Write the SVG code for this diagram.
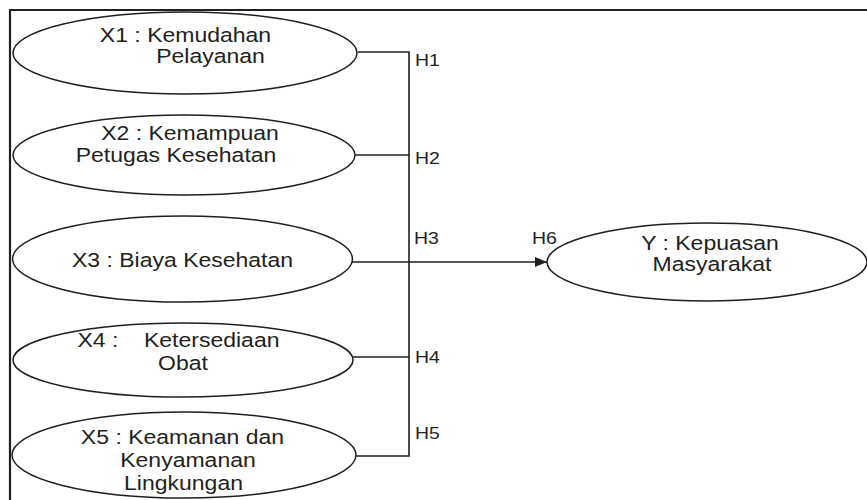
<svg xmlns="http://www.w3.org/2000/svg" width="867" height="500" viewBox="0 0 867 500">
  <style>
    .node ellipse { fill: #ffffff; stroke: #231f20; stroke-width: 1.5; }
    .node text, .lbl { font-family: "Liberation Sans", Arial, sans-serif; fill: #231f20; }
    .node text { font-size: 19.5px; text-anchor: middle; }
    .lbl { font-size: 16.5px; }
    .wire { fill: none; stroke: #231f20; stroke-width: 1.6; }
  </style>
  <defs>
    <marker id="arrow" viewBox="0 0 12 10" refX="12" refY="5" markerWidth="13" markerHeight="10" markerUnits="userSpaceOnUse" orient="auto">
      <path d="M0 0 L12 5 L0 10 Z" fill="#231f20"/>
    </marker>
  </defs>

  <rect width="867" height="500" fill="#ffffff"/>
  <!-- frame -->
  <path d="M10 500 V10 H867" fill="none" stroke="#231f20" stroke-width="2.2"/>

  <!-- all type is set slightly wide: matrix(1.18 0 0 1 x y) -->
  <g id="connectors">
    <path class="wire" d="M358 52 H409 V456 H355"/>
    <path class="wire" d="M355 155 H409"/>
    <path class="wire" d="M353 357 H409"/>
    <path class="wire" d="M352 262 H547" marker-end="url(#arrow)"/>
    <text class="lbl" transform="matrix(1.18 0 0 1 415 66)">H1</text>
    <text class="lbl" transform="matrix(1.18 0 0 1 415 164)">H2</text>
    <text class="lbl" transform="matrix(1.18 0 0 1 414 244)">H3</text>
    <text class="lbl" transform="matrix(1.18 0 0 1 415 363)">H4</text>
    <text class="lbl" transform="matrix(1.18 0 0 1 415 439)">H5</text>
    <text class="lbl" transform="matrix(1.18 0 0 1 532 244)">H6</text>
  </g>

  <g id="x1" class="node">
    <ellipse cx="185" cy="53" rx="172" ry="41"/>
    <text transform="matrix(1.18 0 0 1 185.5 42)">X1 : Kemudahan</text>
    <text transform="matrix(1.18 0 0 1 210.5 63)">Pelayanan</text>
  </g>
  <g id="x2" class="node">
    <ellipse cx="184" cy="155" rx="171" ry="40"/>
    <text transform="matrix(1.18 0 0 1 190 140)">X2 : Kemampuan</text>
    <text transform="matrix(1.18 0 0 1 176 162)">Petugas Kesehatan</text>
  </g>
  <g id="x3" class="node">
    <ellipse cx="182.5" cy="259" rx="170" ry="43"/>
    <text transform="matrix(1.18 0 0 1 182.5 267)">X3 : Biaya Kesehatan</text>
  </g>
  <g id="x4" class="node">
    <ellipse cx="183" cy="360" rx="170" ry="37"/>
    <text xml:space="preserve" transform="matrix(1.18 0 0 1 178.5 347)">X4 :    Ketersediaan</text>
    <text transform="matrix(1.18 0 0 1 183 370)">Obat</text>
  </g>
  <g id="x5" class="node">
    <ellipse cx="184" cy="455" rx="172" ry="43"/>
    <text transform="matrix(1.18 0 0 1 182.5 444)">X5 : Keamanan dan</text>
    <text transform="matrix(1.18 0 0 1 188 467)">Kenyamanan</text>
    <text transform="matrix(1.18 0 0 1 183.5 490)">Lingkungan</text>
  </g>
  <g id="y" class="node">
    <ellipse cx="707" cy="262" rx="160" ry="39"/>
    <text transform="matrix(1.18 0 0 1 710 250)">Y : Kepuasan</text>
    <text transform="matrix(1.18 0 0 1 712 271)">Masyarakat</text>
  </g>
</svg>
